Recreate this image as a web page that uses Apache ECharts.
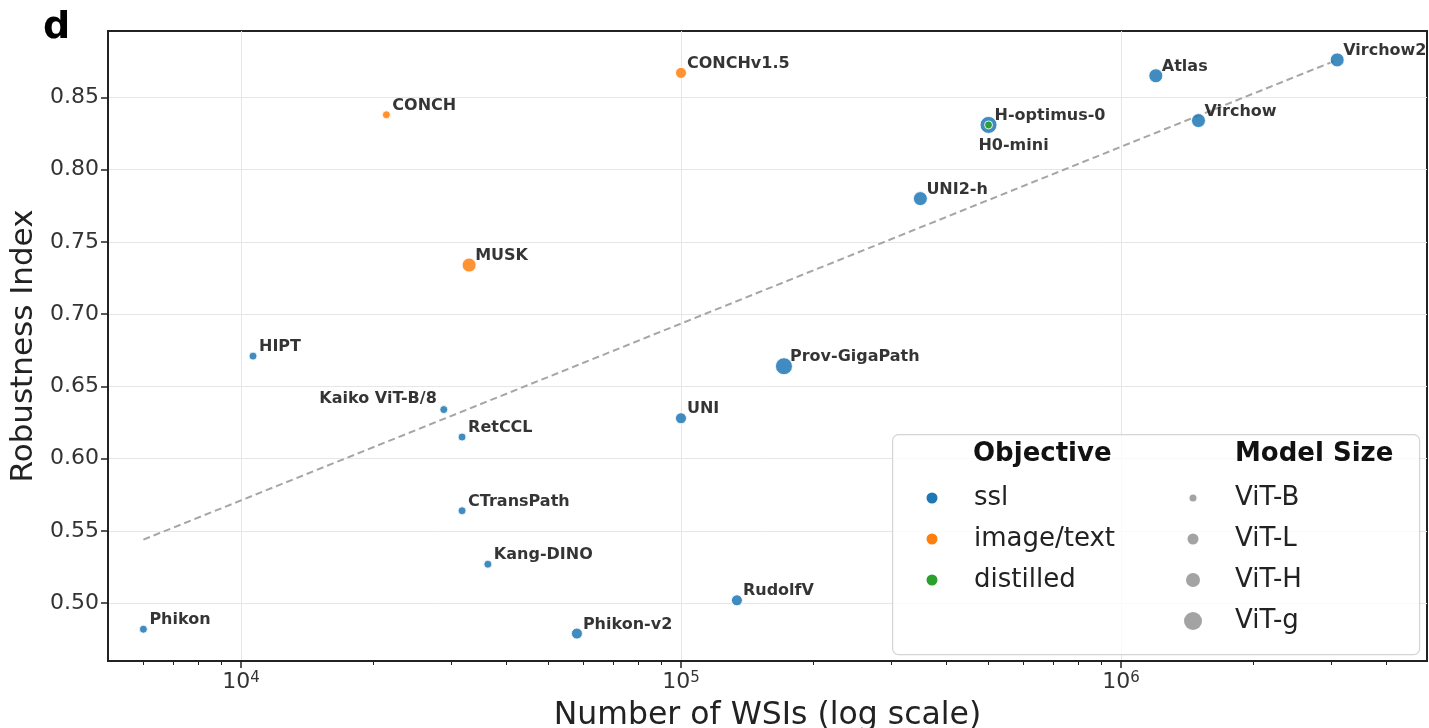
<!DOCTYPE html>
<html><head><meta charset="utf-8">
<script src="https://cdn.jsdelivr.net/npm/echarts@6/dist/echarts.min.js"></script>
<style>html,body{margin:0;padding:0;background:#fff}#c{width:1429px;height:728px}</style>
</head><body><div id="c"></div>
<script>
// ---------------- data ----------------
const models      = ['Phikon','HIPT','CONCH','Kaiko ViT-B/8','RetCCL','CTransPath','MUSK','Kang-DINO','Phikon-v2','UNI','CONCHv1.5','RudolfV','Prov-GigaPath','UNI2-h','H-optimus-0','H0-mini','Atlas','Virchow','Virchow2'];
const wsis        = [6000, 10650, 21400, 28900, 31800, 31800, 33000, 36400, 58000, 100000, 100000, 134000, 171400, 350000, 500000, 500000, 1200000, 1500000, 3100000];
const robustness  = [0.482, 0.671, 0.838, 0.634, 0.615, 0.564, 0.734, 0.527, 0.479, 0.628, 0.867, 0.502, 0.664, 0.780, 0.831, 0.831, 0.865, 0.834, 0.876];
const objectives  = ['ssl','ssl','image/text','ssl','ssl','ssl','image/text','ssl','ssl','ssl','image/text','ssl','ssl','ssl','ssl','distilled','ssl','ssl','ssl'];
const modelSizes  = ['ViT-B','ViT-B','ViT-B','ViT-B','ViT-B','ViT-B','ViT-H','ViT-B','ViT-L','ViT-L','ViT-L','ViT-L','ViT-g','ViT-H','ViT-g','ViT-B','ViT-H','ViT-H','ViT-H'];
const objectiveCats = ['ssl','image/text','distilled'];
const sizeCats      = ['ViT-B','ViT-L','ViT-H','ViT-g'];
const trendX = [6000, 3100000];
const trendY = [0.544, 0.876];
const xTickValues = [1e4, 1e5, 1e6];
const xMinorTickValues = [6e3,7e3,8e3,9e3,2e4,3e4,4e4,5e4,6e4,7e4,8e4,9e4,2e5,3e5,4e5,5e5,6e5,7e5,8e5,9e5,2e6,3e6,4e6];
const yTickValues = [0.50,0.55,0.60,0.65,0.70,0.75,0.80,0.85];
const xAxisTitle = 'Number of WSIs (log scale)';
const yAxisTitle = 'Robustness Index';

// ---------------- style ----------------
const FONT = 'DejaVu Sans';
const palette = {'ssl':'#1f77b4','image/text':'#ff7f0e','distilled':'#2ca02c'};
const sizePx = {'ViT-B':8,'ViT-L':11,'ViT-H':14,'ViT-g':17};
const legendSizePx = {'ViT-B':7,'ViT-L':11,'ViT-H':14,'ViT-g':18};
const OBJ_DOT = 13;
const labelTweaks = {
  'Kaiko ViT-B/8': {align:'right', offset:[-7,-11]},
  'H0-mini': {align:'center', offset:[25,21]}
};

const scatterSeries = objectiveCats.map(cat => ({
  type:'scatter', name:cat, z: cat === 'distilled' ? 6 : 4,
  data: models.map((m,i)=>i).filter(i=>objectives[i]===cat).map(i=>{
    const t = labelTweaks[models[i]] || {};
    return {name: models[i], value:[wsis[i], robustness[i]], symbolSize: sizePx[modelSizes[i]],
      label:{align: t.align || 'left', offset: t.offset || [6,-9]}};
  }),
  itemStyle:{color: palette[cat], opacity:0.85, borderColor:'#fff', borderWidth:1},
  label:{show:true, position:'inside', formatter:'{b}', fontFamily:FONT, fontWeight:'bold', fontSize:16, color:'#111', verticalAlign:'middle'},
  emphasis:{disabled:true}
}));
const sizeSeries = sizeCats.map(s => ({type:'scatter', name:s, data:[], itemStyle:{color:'#8c8c8c'}}));

const trendSeries = {
  type:'line', name:'trend', data: trendX.map((x,i)=>[x, trendY[i]]), symbol:'none', z:2,
  lineStyle:{color:'#a6a6a6', width:2, type:[7,4]}, emphasis:{disabled:true}, silent:true
};

const legendText = {fontSize:26, fontFamily:FONT, color:'#222', lineHeight:30};
const legendCenters = [498, 539, 580, 621];
const objDotX = 931, sizeDotX = 1193;
const legends = [
  {data: objectiveCats.map(c=>({name:c, itemStyle:{opacity:1}})), orient:'vertical', left:objDotX - OBJ_DOT/2, top:legendCenters[0]-15,
   itemWidth:74, itemHeight:OBJ_DOT, itemGap:11, icon:'circle', padding:0, textStyle:legendText, selectedMode:false, z:30}
].concat(sizeCats.map((s,k)=>({
   data:[s], left:sizeDotX - legendSizePx[s]/2, top:legendCenters[k]-15, itemWidth:74, itemHeight:legendSizePx[s], icon:'circle',
   padding:0, textStyle:legendText, selectedMode:false, z:30})));

const option = {
  animation:false,
  backgroundColor:'#fff',
  grid:{left:108, right:2, top:31, bottom:67, show:true, borderColor:'#222', borderWidth:2,
        containLabel:false, outerBoundsMode:'none'},
  xAxis:[{
    type:'log', logBase:10, min:4986, max:4.96e6, position:'bottom',
    name:xAxisTitle, nameLocation:'middle', nameGap:31,
    nameTextStyle:{fontSize:31.5, fontFamily:FONT, color:'#222'},
    axisLine:{show:true, lineStyle:{color:'#222', width:2}},
    axisTick:{show:true, length:7, customValues:xTickValues, lineStyle:{color:'#222', width:1.5}},
    axisLabel:{customValues:xTickValues, margin:10,
      formatter: v => '{b|10}{s|' + Math.round(Math.log10(v)) + '}',
      rich:{b:{fontSize:22, fontFamily:FONT, color:'#333', verticalAlign:'bottom', lineHeight:22},
            s:{fontSize:15, fontFamily:FONT, color:'#333', verticalAlign:'top', lineHeight:15, padding:[0,0,9,0]}}},
    splitLine:{show:true, lineStyle:{color:'#e6e6e6', width:1}}
  },{
    type:'log', logBase:10, min:4986, max:4.96e6, position:'bottom',
    axisLine:{show:false}, axisLabel:{show:false}, splitLine:{show:false},
    axisTick:{show:true, length:4, customValues:xMinorTickValues, lineStyle:{color:'#222', width:1}}
  }],
  yAxis:{
    type:'value', min:0.46, max:0.896, splitNumber:9,
    name:yAxisTitle, nameLocation:'middle', nameGap:53, nameRotate:90,
    nameTextStyle:{fontSize:31, fontFamily:FONT, color:'#222'},
    axisLine:{show:true, lineStyle:{color:'#222', width:2}},
    axisTick:{show:true, length:7, customValues:yTickValues, lineStyle:{color:'#222', width:1.5}},
    axisLabel:{customValues:yTickValues, margin:9, fontSize:22, fontFamily:FONT, color:'#333', formatter: v => v.toFixed(2)},
    splitLine:{show:true, lineStyle:{color:'#e6e6e6', width:1}}
  },
  legend: legends,
  graphic:[
    {type:'rect', left:892, top:434, z:10, shape:{width:527, height:220, r:6},
     style:{fill:'rgba(255,255,255,0.8)', stroke:'#d4d4d4', lineWidth:1.2}, silent:true},
    {type:'text', left:973, top:458-17, z:31, style:{text:'Objective', font:'bold 26px "DejaVu Sans"', fill:'#111'}},
    {type:'text', left:1235, top:458-17, z:31, style:{text:'Model Size', font:'bold 26px "DejaVu Sans"', fill:'#111'}},
    {type:'text', left:43, top:9, z:31, style:{text:'d', font:'bold 38px "DejaVu Sans"', fill:'#000'}}
  ],
  series:[trendSeries].concat(scatterSeries, sizeSeries)
};
const chart = echarts.init(document.getElementById('c'), null, {renderer:'canvas'});
chart.setOption(option);
</script></body></html>
